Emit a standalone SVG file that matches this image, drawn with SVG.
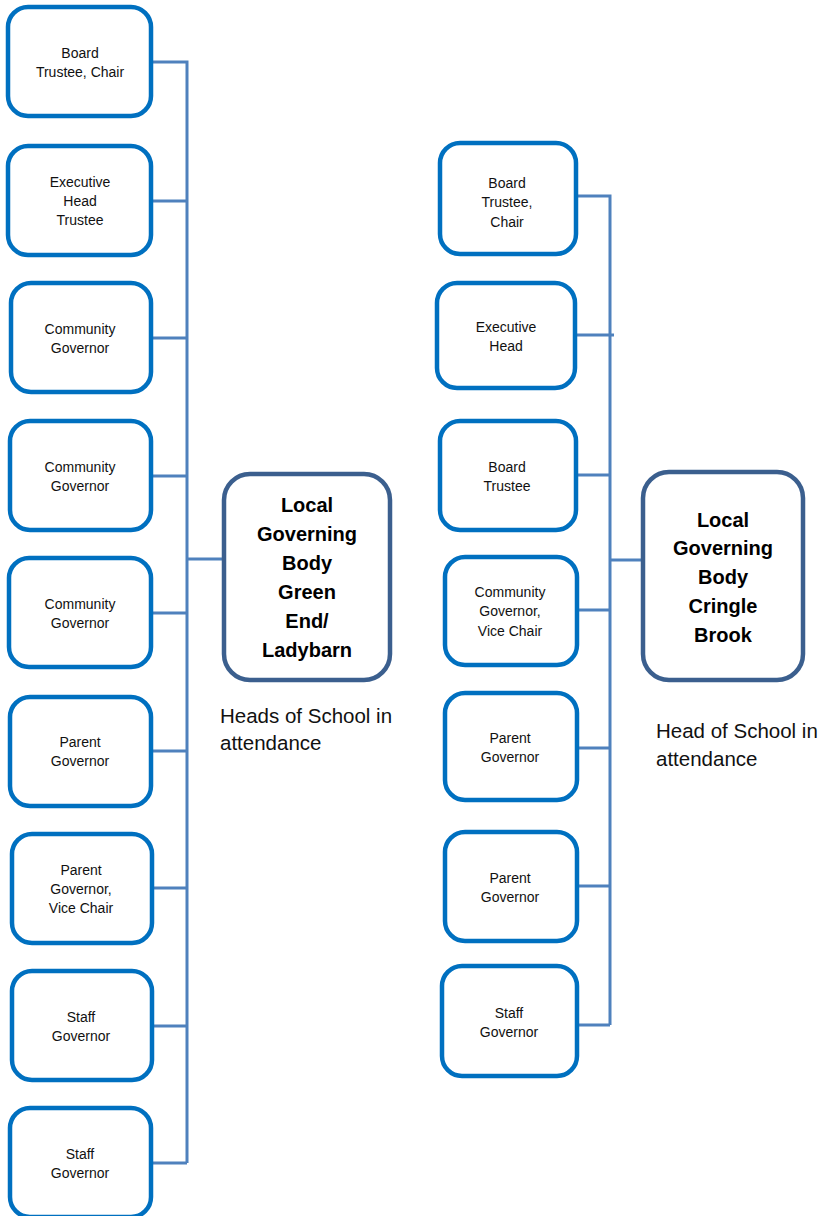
<svg xmlns="http://www.w3.org/2000/svg" width="827" height="1216" viewBox="0 0 827 1216">
<style>
.box{fill:#fff;stroke:#0070C0;stroke-width:4.5}
.main{fill:#fff;stroke:#3B5F8E;stroke-width:4.5}
.t{font-family:"Liberation Sans",Arial,sans-serif;font-size:14px;text-anchor:middle;fill:#111}
.b{font-family:"Liberation Sans",Arial,sans-serif;font-size:20px;font-weight:bold;text-anchor:middle;fill:#000}
.n{font-family:"Liberation Sans",Arial,sans-serif;font-size:20.5px;fill:#111}
.c{fill:none;stroke:#4F81BD;stroke-width:3}
</style>
<rect width="827" height="1216" fill="#fff"/>
<g id="connectors">
<path class="c" d="M151 62H187V1163M151 201H187M151 338H187M151 476H187M151 613H187M151 751H187M151 888H187M151 1026H187M151 1163H187M187 559H224"/>
<path class="c" d="M576 196H610V1025M575 335H614M576 475H610M577 610H610M577 748H610M577 886H610M577 1025H610M610 560H643"/>
</g>
<g id="l1"><rect class="box" x="8" y="7" width="143" height="109" rx="20"/><text class="t" x="80" y="58">Board</text><text class="t" x="80" y="77">Trustee, Chair</text></g>
<g id="l2"><rect class="box" x="8" y="146" width="143" height="109" rx="20"/><text class="t" x="80" y="187">Executive</text><text class="t" x="80" y="206">Head</text><text class="t" x="80" y="225">Trustee</text></g>
<g id="l3"><rect class="box" x="11" y="283" width="140" height="109" rx="20"/><text class="t" x="80" y="334">Community</text><text class="t" x="80" y="353">Governor</text></g>
<g id="l4"><rect class="box" x="10" y="421" width="141" height="109" rx="20"/><text class="t" x="80" y="472">Community</text><text class="t" x="80" y="491">Governor</text></g>
<g id="l5"><rect class="box" x="9" y="558" width="142" height="109" rx="20"/><text class="t" x="80" y="609">Community</text><text class="t" x="80" y="628">Governor</text></g>
<g id="l6"><rect class="box" x="10" y="697" width="141" height="109" rx="20"/><text class="t" x="80" y="747">Parent</text><text class="t" x="80" y="766">Governor</text></g>
<g id="l7"><rect class="box" x="12" y="834" width="140" height="109" rx="20"/><text class="t" x="81" y="875">Parent</text><text class="t" x="81" y="894">Governor,</text><text class="t" x="81" y="913">Vice Chair</text></g>
<g id="l8"><rect class="box" x="12" y="971" width="140" height="109" rx="20"/><text class="t" x="81" y="1022">Staff</text><text class="t" x="81" y="1041">Governor</text></g>
<g id="l9"><rect class="box" x="10" y="1108" width="141" height="109" rx="20"/><text class="t" x="80" y="1159">Staff</text><text class="t" x="80" y="1178">Governor</text></g>
<g id="lgb1"><rect class="main" x="224" y="474" width="166" height="206" rx="26"/>
<text class="b" x="307" y="512">Local</text><text class="b" x="307" y="541">Governing</text><text class="b" x="307" y="570">Body</text><text class="b" x="307" y="599">Green</text><text class="b" x="307" y="628">End/</text><text class="b" x="307" y="657">Ladybarn</text></g>
<g id="note1"><text class="n" x="220" y="723">Heads of School in</text><text class="n" x="220" y="750">attendance</text></g>
<g id="r1"><rect class="box" x="440" y="143" width="136" height="111" rx="20"/><text class="t" x="507" y="188">Board</text><text class="t" x="507" y="207">Trustee,</text><text class="t" x="507" y="227">Chair</text></g>
<g id="r2"><rect class="box" x="437" y="283" width="138" height="105" rx="20"/><text class="t" x="506" y="332">Executive</text><text class="t" x="506" y="351">Head</text></g>
<g id="r3"><rect class="box" x="440" y="421" width="136" height="109" rx="20"/><text class="t" x="507" y="472">Board</text><text class="t" x="507" y="491">Trustee</text></g>
<g id="r4"><rect class="box" x="445" y="557" width="132" height="108" rx="20"/><text class="t" x="510" y="597">Community</text><text class="t" x="510" y="616">Governor,</text><text class="t" x="510" y="636">Vice Chair</text></g>
<g id="r5"><rect class="box" x="445" y="693" width="132" height="107" rx="20"/><text class="t" x="510" y="743">Parent</text><text class="t" x="510" y="762">Governor</text></g>
<g id="r6"><rect class="box" x="445" y="832" width="132" height="109" rx="20"/><text class="t" x="510" y="883">Parent</text><text class="t" x="510" y="902">Governor</text></g>
<g id="r7"><rect class="box" x="442" y="966" width="135" height="110" rx="20"/><text class="t" x="509" y="1018">Staff</text><text class="t" x="509" y="1037">Governor</text></g>
<g id="lgb2"><rect class="main" x="643" y="472" width="160" height="208" rx="26"/>
<text class="b" x="723" y="527">Local</text><text class="b" x="723" y="555">Governing</text><text class="b" x="723" y="584">Body</text><text class="b" x="723" y="613">Cringle</text><text class="b" x="723" y="642">Brook</text></g>
<g id="note2"><text class="n" x="656" y="738">Head of School in</text><text class="n" x="656" y="766">attendance</text></g>
</svg>
